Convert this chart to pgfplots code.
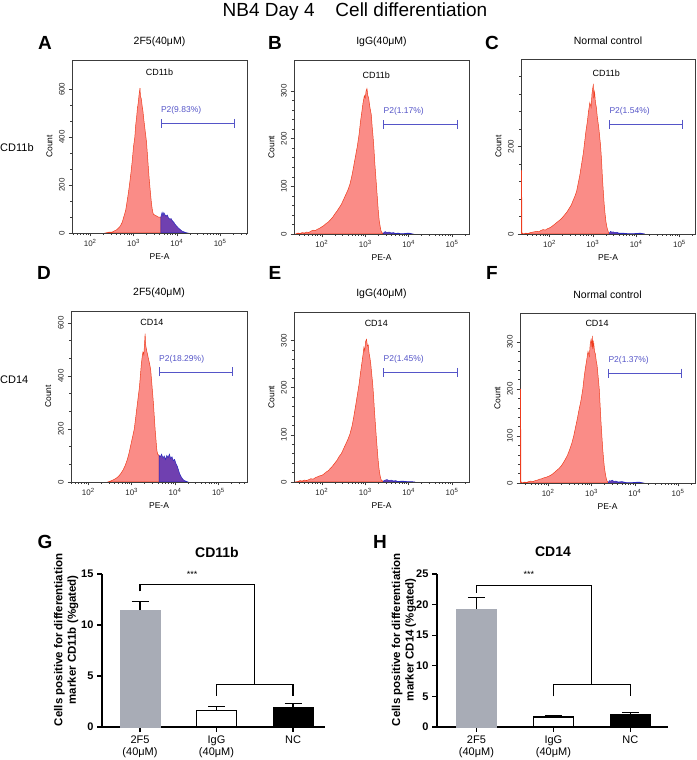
\documentclass[border=0pt]{standalone}
\usepackage{graphicx}
\usepackage{fontspec}
\setmainfont{Liberation Sans}
\usepackage{pgfplots}
\pgfplotsset{compat=1.18}
\usetikzlibrary{arrows.meta}

\definecolor{pinkfill}{RGB}{250,140,135}
\definecolor{redline}{RGB}{238,60,30}
\definecolor{purpfill}{RGB}{112,64,176}
\definecolor{blueline}{RGB}{40,40,190}
\definecolor{gatecol}{RGB}{85,85,200}
\definecolor{barGrey}{RGB}{168,172,182}
\definecolor{axgrey}{RGB}{60,60,60}

\pgfplotsset{
  facs/.style={
    scale only axis, anchor=south west,
    /pgf/number format/assume math mode=true,
    axis line style={axgrey, line width=0.6pt},
    tick align=outside, xtick pos=bottom, ytick pos=left,
    major tick length=3.5pt, minor tick length=2pt,
    every tick/.style={axgrey, line width=0.5pt},
    xtick={2,3,4,5},
    xticklabels={10\textsuperscript{2},10\textsuperscript{3},10\textsuperscript{4},10\textsuperscript{5}},
    minor xtick={1.301,1.477,1.602,1.699,1.778,1.845,1.903,1.954,
                 2.301,2.477,2.602,2.699,2.778,2.845,2.903,2.954,
                 3.301,3.477,3.602,3.699,3.778,3.845,3.903,3.954,
                 4.301,4.477,4.602,4.699,4.778,4.845,4.903,4.954,
                 5.301,5.477,5.602,5.699},
    tick label style={font=\fontsize{8}{9}\selectfont, black!85},
    xticklabel style={inner sep=3pt},
    yticklabel style={rotate=90, anchor=south, inner sep=3.5pt},
    xlabel={PE-A}, ylabel={Count},
    xlabel style={font=\fontsize{8.5}{10}\selectfont, at={(axis description cs:0.5,0)}, anchor=center, yshift=-24pt},
    ylabel style={font=\fontsize{8.5}{10}\selectfont, at={(axis description cs:-0.129,0.5)}, anchor=center},
    title style={font=\fontsize{10.5}{12}\selectfont, at={(0.5,1)}, anchor=center, yshift=12pt},
    ymin=0,
  },
  pinkh/.style={fill=pinkfill, draw=redline, line width=0.5pt},
  purph/.style={fill=purpfill, draw=blueline, line width=0.5pt},
  gate/.style={gatecol, line width=0.7pt, {Bar[width=9pt]}-{Bar[width=9pt]}},
  bars/.style={
    scale only axis, anchor=south west, clip=false,
    /pgf/number format/assume math mode=true,
    axis lines=left, axis line style={-, line width=1.3pt, black},
    tick align=outside, major tick length=5pt,
    every tick/.style={black, line width=1.2pt},
    xtick={0,1,2},
    xticklabels={{2F5\\(40μM)},{IgG\\(40μM)},NC},
    xticklabel style={align=center, font=\fontsize{11}{12.5}\selectfont},
    yticklabel style={font=\bfseries\fontsize{11}{12}\selectfont},
    ylabel style={font=\bfseries\fontsize{11.5}{13.5}\selectfont, align=center},
    ymin=0,
  },
}

\begin{document}
\begin{tikzpicture}
\path[use as bounding box] (0,0) rectangle (696pt,760pt);

% ---------- A ----------
\begin{axis}[facs, at={(72pt,527pt)}, width=175pt, height=173pt,
  xmin=1.58, xmax=5.62, ymax=722, ytick={0,200,400,600}, minor y tick num=2,
  title={2F5(40μM)}]
\addplot[pinkh] coordinates {(2.35,0)(2.40,2)(2.45,4)(2.50,3)(2.55,8)(2.60,12)(2.65,20)(2.70,30)(2.74,45)(2.78,70)(2.82,95)(2.85,130)(2.88,165)(2.91,205)(2.94,250)(2.97,300)(3.00,360)(3.03,400)(3.05,450)(3.07,480)(3.09,520)(3.11,545)(3.13,580)(3.15,605)(3.16,570)(3.18,560)(3.20,530)(3.22,505)(3.24,470)(3.26,440)(3.28,410)(3.30,380)(3.32,330)(3.34,280)(3.36,230)(3.38,190)(3.40,150)(3.42,115)(3.44,90)(3.46,78)(3.50,74)(3.54,70)(3.58,66)(3.63,66)} \closedcycle;
\addplot[purph] coordinates {(3.63,66)(3.66,86)(3.68,72)(3.70,85)(3.72,78)(3.75,70)(3.78,75)(3.81,62)(3.84,58)(3.87,60)(3.90,50)(3.93,45)(3.96,36)(4.00,28)(4.04,20)(4.08,14)(4.12,8)(4.16,5)(4.20,2)(4.25,0)} \closedcycle;
\addplot[gate] coordinates {(3.63,458)(5.33,458)};
\node[gatecol, font=\fontsize{8.5}{10}\selectfont, anchor=west, inner sep=0pt, yshift=13pt] at (axis cs:3.63,458) {P2(9.83\%)};
\node[font=\fontsize{9}{10}\selectfont] at (axis description cs:0.5,1) [yshift=-12pt] {CD11b};
\end{axis}

% ---------- B ----------
\begin{axis}[facs, at={(294pt,526pt)}, width=175pt, height=174pt,
  xmin=1.36, xmax=5.39, ymax=365, ytick={0,100,200,300}, minor y tick num=4,
  title={IgG(40μM)}]
\addplot[pinkh] coordinates {(1.40,0)(1.45,2)(1.50,1)(1.55,3)(1.60,2)(1.65,4)(1.70,3)(1.75,6)(1.80,8)(1.85,7)(1.90,10)(1.95,12)(2.00,15)(2.05,18)(2.10,22)(2.15,25)(2.20,30)(2.25,35)(2.30,42)(2.35,48)(2.40,55)(2.45,62)(2.50,72)(2.55,82)(2.60,92)(2.65,105)(2.70,125)(2.74,145)(2.78,165)(2.82,185)(2.86,210)(2.89,235)(2.92,255)(2.95,275)(2.98,290)(3.00,285)(3.02,300)(3.04,305)(3.06,290)(3.08,285)(3.10,270)(3.12,260)(3.14,250)(3.16,225)(3.18,205)(3.20,180)(3.22,150)(3.24,125)(3.26,100)(3.28,75)(3.30,50)(3.32,30)(3.34,18)(3.36,8)(3.38,3)(3.42,1)} \closedcycle;
\addplot[purph] coordinates {(3.42,2)(3.46,5)(3.50,3)(3.55,4)(3.60,2)(3.65,3)(3.70,1)(3.75,2)(3.80,1)(3.90,1)(4.00,2)(4.10,0)} \closedcycle;
\addplot[gate] coordinates {(3.42,230)(5.12,230)};
\node[gatecol, font=\fontsize{8.5}{10}\selectfont, anchor=west, inner sep=0pt, yshift=13pt] at (axis cs:3.42,230) {P2(1.17\%)};
\node[font=\fontsize{9}{10}\selectfont] at (axis description cs:0.47,1) [yshift=-15pt] {CD11b};
\end{axis}

% ---------- C ----------
\begin{axis}[facs, at={(521pt,526pt)}, width=174pt, height=175pt,
  xmin=1.34, xmax=5.36, ymax=400, ytick={0,200}, minor ytick={40,80,...,360},
  title={Normal control}]
\addplot[pinkh] coordinates {(1.345,145)(1.355,145)(1.36,3)(1.40,0)(1.45,2)(1.50,1)(1.55,3)(1.60,4)(1.65,5)(1.70,6)(1.75,5)(1.80,8)(1.85,10)(1.90,9)(1.95,12)(2.00,14)(2.05,17)(2.10,21)(2.15,25)(2.20,29)(2.25,33)(2.30,38)(2.35,44)(2.40,50)(2.45,58)(2.50,66)(2.55,78)(2.60,90)(2.63,100)(2.66,115)(2.70,135)(2.74,160)(2.78,185)(2.81,210)(2.84,235)(2.87,255)(2.90,280)(2.93,300)(2.96,290)(2.98,320)(3.00,335)(3.01,340)(3.02,310)(3.04,325)(3.06,300)(3.08,290)(3.10,270)(3.12,255)(3.14,240)(3.16,220)(3.18,200)(3.20,170)(3.22,130)(3.24,100)(3.26,70)(3.28,48)(3.30,30)(3.32,18)(3.34,10)(3.36,4)(3.38,1)} \closedcycle;
\addplot[purph] coordinates {(3.38,2)(3.41,6)(3.44,4)(3.47,5)(3.50,3)(3.55,4)(3.60,2)(3.70,2)(3.80,1)(3.95,1)(4.10,2)(4.20,0)} \closedcycle;
\addplot[gate] coordinates {(3.38,251)(5.08,251)};
\node[gatecol, font=\fontsize{8.5}{10}\selectfont, anchor=west, inner sep=0pt, yshift=13pt] at (axis cs:3.38,251) {P2(1.54\%)};
\node[font=\fontsize{9}{10}\selectfont] at (axis description cs:0.49,1) [yshift=-14pt] {CD11b};
\end{axis}

% ---------- D ----------
\begin{axis}[facs, at={(71pt,278pt)}, width=176pt, height=171pt,
  xmin=1.60, xmax=5.66, ymax=645, ytick={0,200,400,600}, minor y tick num=2,
  title={2F5(40μM)}]
\addplot[pinkh] coordinates {(2.45,0)(2.50,3)(2.55,6)(2.60,10)(2.65,15)(2.70,22)(2.75,32)(2.80,45)(2.85,62)(2.90,85)(2.94,110)(2.98,140)(3.02,170)(3.06,200)(3.09,240)(3.12,280)(3.15,320)(3.18,360)(3.20,400)(3.22,440)(3.24,470)(3.26,490)(3.28,480)(3.30,530)(3.31,560)(3.32,520)(3.34,500)(3.36,485)(3.38,470)(3.40,455)(3.42,440)(3.44,420)(3.46,380)(3.48,340)(3.50,300)(3.52,250)(3.54,200)(3.56,160)(3.58,120)(3.60,105)(3.63,100)} \closedcycle;
\addplot[purph] coordinates {(3.63,100)(3.66,95)(3.69,105)(3.72,90)(3.75,98)(3.78,85)(3.81,100)(3.84,92)(3.87,105)(3.90,88)(3.93,95)(3.96,80)(3.99,85)(4.02,70)(4.05,60)(4.08,45)(4.11,30)(4.14,20)(4.18,10)(4.22,5)(4.27,2)(4.30,0)} \closedcycle;
\addplot[gate] coordinates {(3.63,415)(5.32,415)};
\node[gatecol, font=\fontsize{8.5}{10}\selectfont, anchor=west, inner sep=0pt, yshift=13pt] at (axis cs:3.63,415) {P2(18.29\%)};
\node[font=\fontsize{9}{10}\selectfont] at (axis description cs:0.46,1) [yshift=-11pt] {CD14};
\end{axis}

% ---------- E ----------
\begin{axis}[facs, at={(294pt,278pt)}, width=175pt, height=170pt,
  xmin=1.36, xmax=5.39, ymax=360, ytick={0,100,200,300}, minor y tick num=4,
  title={IgG(40μM)}]
\addplot[pinkh] coordinates {(1.38,0)(1.45,1)(1.50,3)(1.55,2)(1.60,4)(1.65,3)(1.70,5)(1.75,7)(1.80,6)(1.85,9)(1.90,11)(1.95,13)(2.00,14)(2.05,17)(2.10,21)(2.15,24)(2.20,29)(2.25,34)(2.30,40)(2.35,46)(2.40,54)(2.45,60)(2.50,70)(2.55,80)(2.60,90)(2.65,102)(2.70,120)(2.74,140)(2.78,162)(2.82,185)(2.86,208)(2.89,230)(2.92,250)(2.95,270)(2.97,285)(2.99,278)(3.01,298)(3.03,302)(3.05,288)(3.07,290)(3.09,272)(3.11,262)(3.13,248)(3.15,228)(3.17,210)(3.19,185)(3.21,155)(3.23,128)(3.25,102)(3.27,78)(3.29,54)(3.31,34)(3.33,20)(3.35,10)(3.37,4)(3.42,1)} \closedcycle;
\addplot[purph] coordinates {(3.42,2)(3.46,4)(3.50,5)(3.55,3)(3.60,4)(3.65,2)(3.70,3)(3.75,1)(3.85,2)(3.95,1)(4.05,1)(4.15,0)} \closedcycle;
\addplot[gate] coordinates {(3.42,232)(5.12,232)};
\node[gatecol, font=\fontsize{8.5}{10}\selectfont, anchor=west, inner sep=0pt, yshift=13pt] at (axis cs:3.42,232) {P2(1.45\%)};
\node[font=\fontsize{9}{10}\selectfont] at (axis description cs:0.47,1) [yshift=-11pt] {CD14};
\end{axis}

% ---------- F ----------
\begin{axis}[facs, at={(520pt,277pt)}, width=175pt, height=170pt,
  xmin=1.35, xmax=5.39, ymax=362, ytick={0,100,200,300}, minor y tick num=4,
  title={Normal control}]
\addplot[pinkh] coordinates {(1.355,200)(1.365,200)(1.37,3)(1.40,0)(1.45,2)(1.50,1)(1.55,3)(1.60,4)(1.65,3)(1.70,5)(1.75,6)(1.80,8)(1.85,9)(1.90,11)(1.95,12)(2.00,14)(2.05,16)(2.10,19)(2.15,23)(2.20,27)(2.25,31)(2.30,36)(2.35,43)(2.40,51)(2.45,60)(2.50,72)(2.55,86)(2.59,100)(2.63,118)(2.67,135)(2.71,155)(2.75,172)(2.80,200)(2.83,225)(2.86,245)(2.89,262)(2.92,280)(2.95,270)(2.97,295)(2.99,305)(3.01,290)(3.02,313)(3.03,285)(3.05,300)(3.07,280)(3.09,275)(3.11,260)(3.13,250)(3.15,230)(3.18,200)(3.20,165)(3.22,130)(3.24,100)(3.26,72)(3.28,50)(3.30,32)(3.32,20)(3.34,10)(3.36,4)(3.39,1)} \closedcycle;
\addplot[purph] coordinates {(3.39,2)(3.42,5)(3.45,4)(3.48,6)(3.52,3)(3.56,4)(3.62,2)(3.70,3)(3.80,1)(3.95,1)(4.10,2)(4.20,0)} \closedcycle;
\addplot[gate] coordinates {(3.39,234)(5.09,234)};
\node[gatecol, font=\fontsize{8.5}{10}\selectfont, anchor=west, inner sep=0pt, yshift=13pt] at (axis cs:3.39,234) {P2(1.37\%)};
\node[font=\fontsize{9}{10}\selectfont] at (axis description cs:0.44,1) [yshift=-10pt] {CD14};
\end{axis}

% ---------- G ----------
\begin{axis}[bars, at={(102pt,33pt)}, width=223pt, height=153pt,
  xmin=-0.497, xmax=2.418, ymax=15, ytick={0,5,10,15},
  ylabel={Cells positive for differentiation\\marker CD11b (\%gated)},
  ylabel style={at={(axis description cs:-0.161,0.57)}, anchor=center}]
\addplot[ybar, bar width=40pt, bar shift=0pt, fill=barGrey, draw=barGrey,
  error bars/.cd, y dir=plus, y explicit, error bar style={black, line width=1.2pt},
  error mark options={black, rotate=90, mark size=8.5pt, line width=1.2pt}]
  coordinates {(0,11.45) +- (0,0.85)};
\addplot[ybar, bar width=40pt, bar shift=0pt, fill=white, draw=black, line width=1.2pt,
  error bars/.cd, y dir=plus, y explicit, error bar style={black, line width=1.2pt},
  error mark options={black, rotate=90, mark size=8.5pt, line width=1.2pt}]
  coordinates {(1,1.6) +- (0,0.4)};
\addplot[ybar, bar width=40pt, bar shift=0pt, fill=black, draw=black,
  error bars/.cd, y dir=plus, y explicit, error bar style={black, line width=1.2pt},
  error mark options={black, rotate=90, mark size=8.5pt, line width=1.2pt}]
  coordinates {(2,1.93) +- (0,0.35)};
\addplot[black, line width=1.2pt] coordinates {(0,13.3)(0,13.95)(1.5,13.95)(1.5,4.2)};
\addplot[black, line width=1.2pt] coordinates {(1,3.05)(1,4.2)(2,4.2)(2,3.05)};
\node[font=\fontsize{9}{10}\selectfont] at (axis cs:0.68,15) {***};
\end{axis}

% ---------- H ----------
\begin{axis}[bars, at={(437pt,33pt)}, width=231pt, height=153pt,
  xmin=-0.513, xmax=2.49, ymax=25, ytick={0,5,10,15,20,25},
  ylabel={Cells positive for differentiation\\marker CD14 (\%gated)},
  ylabel style={at={(axis description cs:-0.143,0.57)}, anchor=center}]
\addplot[ybar, bar width=40pt, bar shift=0pt, fill=barGrey, draw=barGrey,
  error bars/.cd, y dir=plus, y explicit, error bar style={black, line width=1.2pt},
  error mark options={black, rotate=90, mark size=8.5pt, line width=1.2pt}]
  coordinates {(0,19.3) +- (0,1.8)};
\addplot[ybar, bar width=40pt, bar shift=0pt, fill=white, draw=black, line width=1.2pt,
  error bars/.cd, y dir=plus, y explicit, error bar style={black, line width=1.2pt},
  error mark options={black, rotate=90, mark size=8.5pt, line width=1.2pt}]
  coordinates {(1,1.65) +- (0,0.15)};
\addplot[ybar, bar width=40pt, bar shift=0pt, fill=black, draw=black,
  error bars/.cd, y dir=plus, y explicit, error bar style={black, line width=1.2pt},
  error mark options={black, rotate=90, mark size=8.5pt, line width=1.2pt}]
  coordinates {(2,2.05) +- (0,0.3)};
\addplot[black, line width=1.2pt] coordinates {(0,21.9)(0,23.1)(1.5,23.1)(1.5,6.97)};
\addplot[black, line width=1.2pt] coordinates {(1,5.0)(1,6.97)(2,6.97)(2,5.0)};
\node[font=\fontsize{9}{10}\selectfont] at (axis cs:0.68,25) {***};
\end{axis}

% ---------- texts ----------
\node[font=\fontsize{19}{21}\selectfont] at (355pt,748pt) {NB4 Day 4\hspace{1.1em}Cell differentiation};
\foreach \l/\x/\y in {A/45/717, B/275/717, C/492/717, D/44/487, E/275/487, F/492/487, G/45/218, H/380/218}
  \node[font=\bfseries\fontsize{19}{21}\selectfont] at (\x pt,\y pt) {\l};
\node[font=\fontsize{11}{12}\selectfont, anchor=west, inner sep=0pt] at (0pt,612pt) {CD11b};
\node[font=\fontsize{11}{12}\selectfont, anchor=west, inner sep=0pt] at (0pt,380pt) {CD14};
\node[font=\bfseries\fontsize{14}{16}\selectfont] at (217pt,208pt) {CD11b};
\node[font=\bfseries\fontsize{14}{16}\selectfont] at (553pt,208pt) {CD14};
\end{tikzpicture}
\end{document}
